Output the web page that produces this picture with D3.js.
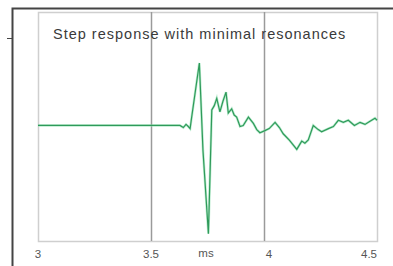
<!DOCTYPE html>
<html>
<head>
<meta charset="utf-8">
<script src="https://cdn.jsdelivr.net/npm/d3@7"></script>
<style>
  body { margin: 0; background: #fff; }
  svg { display: block; font-family: "Liberation Sans", Arial, sans-serif; }
</style>
</head>
<body>
<div id="chart"></div>
<script>
// data: time in ms, amplitude (arbitrary units)
const timeMs = [3.0, 3.3, 3.6, 3.628, 3.643, 3.655, 3.665, 3.673, 3.68, 3.714, 3.73, 3.754, 3.769, 3.78, 3.791,
  3.805, 3.818, 3.832, 3.842, 3.857, 3.868, 3.879, 3.894, 3.908, 3.931, 3.953, 3.968, 3.982, 4.004, 4.023,
  4.049, 4.068, 4.085, 4.112, 4.13, 4.145, 4.167, 4.181, 4.196, 4.218, 4.24, 4.255, 4.285, 4.307, 4.329,
  4.351, 4.373, 4.4, 4.425, 4.447, 4.469, 4.491, 4.5];
const amplitude = [0.01, 0.01, 0.01, 0.01, -0.01, 0.02, 0.0, -0.02, 0.09, 0.61, -0.23, -1.03, 0.16, 0.2, 0.27,
  0.14, 0.24, 0.33, 0.13, 0.17, 0.11, 0.09, 0.0, 0.01, 0.09, 0.03, -0.03, -0.06, -0.04, -0.02,
  0.04, -0.01, -0.07, -0.13, -0.18, -0.22, -0.14, -0.16, -0.13, 0.01, -0.03, -0.05, -0.02, 0.0, 0.06,
  0.04, 0.06, 0.01, 0.04, 0.02, 0.05, 0.08, 0.06];
const xTicks = [3, 3.5, 4, 4.5];
const gridTicks = [3.5, 4];
const title = "Step response with minimal resonances";
const unit = "ms";

const W = 393, H = 266;
const plot = { left: 38, right: 377, top: 12, bottom: 241 };

const svg = d3.select("#chart").append("svg").attr("width", W).attr("height", H);

const x = d3.scaleLinear().domain([3, 4.5]).range([plot.left, plot.right]);
const y = d3.scaleLinear().domain([-1.1, 1.1]).range([plot.bottom, plot.top]);

// outer frame (left + top)
svg.append("path")
  .attr("d", `M12.5,${H} L12.5,8.5 L${W},8.5`)
  .attr("fill", "none").attr("stroke", "#444").attr("stroke-width", 2);
svg.append("line").attr("x1", 7).attr("x2", 12).attr("y1", 38.5).attr("y2", 38.5)
  .attr("stroke", "#444").attr("stroke-width", 1);

// plot box
svg.append("rect")
  .attr("x", plot.left + 0.5).attr("y", plot.top + 0.5)
  .attr("width", plot.right - plot.left).attr("height", plot.bottom - plot.top)
  .attr("fill", "none").attr("stroke", "#cfcfcf").attr("stroke-width", 1.5);

// gridlines
svg.selectAll("line.grid").data(gridTicks).join("line")
  .attr("class", "grid")
  .attr("x1", d => Math.round(x(d)) + 0.5).attr("x2", d => Math.round(x(d)) + 0.5)
  .attr("y1", plot.top).attr("y2", plot.bottom)
  .attr("stroke", "#9a9a9a").attr("stroke-width", 1.5);

// title
svg.append("text")
  .attr("x", 53).attr("y", 39)
  .attr("font-size", "14.5px").attr("fill", "#3a3a3a")
  .attr("letter-spacing", "1px")
  .text(title);

// tick labels
svg.selectAll("text.tick").data(xTicks).join("text")
  .attr("class", "tick")
  .attr("x", (d, i) => x(d) + (i === 2 ? 5 : (i === 3 ? -8 : 0)))
  .attr("y", 258)
  .attr("text-anchor", "middle")
  .attr("font-size", "11.5px").attr("fill", "#555")
  .text(d => d);

svg.append("text")
  .attr("x", 206).attr("y", 257)
  .attr("text-anchor", "middle")
  .attr("font-size", "11.5px").attr("fill", "#555")
  .text(unit);

// waveform
const line = d3.line().x((d, i) => x(timeMs[i])).y(d => y(d));
svg.append("path")
  .datum(amplitude)
  .attr("d", line)
  .attr("fill", "none")
  .attr("stroke", "#8fe0b0").attr("stroke-width", 2.5).attr("stroke-opacity", 0.6);
svg.append("path")
  .datum(amplitude)
  .attr("d", line)
  .attr("fill", "none")
  .attr("stroke", "#2f9a5a").attr("stroke-width", 1.2);
</script>
</body>
</html>
